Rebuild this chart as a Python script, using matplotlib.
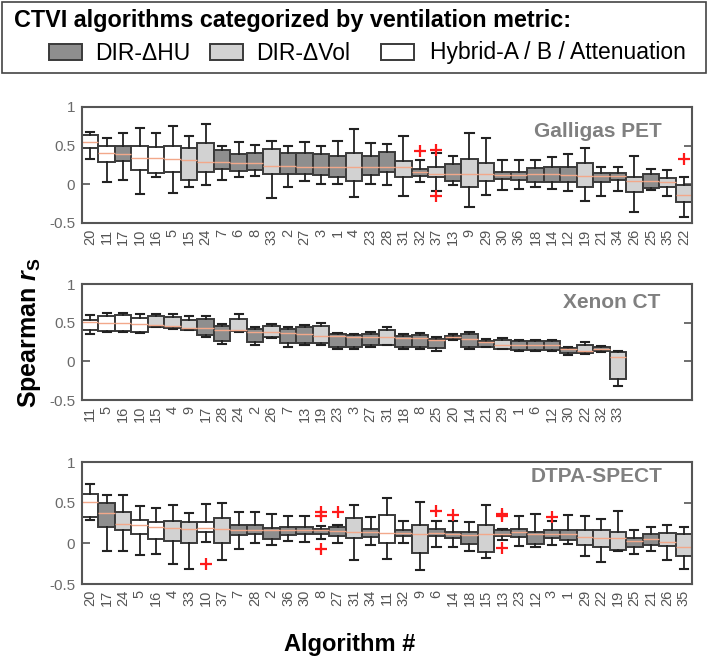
import matplotlib
matplotlib.use('Agg')
import matplotlib.pyplot as plt
from matplotlib.patches import Rectangle

plt.rcParams['font.family'] = ['Liberation Sans', 'DejaVu Sans']
plt.rcParams['mathtext.fontset'] = 'custom'
plt.rcParams['mathtext.rm'] = 'Liberation Sans:bold'
plt.rcParams['mathtext.it'] = 'Liberation Sans:italic:bold'
plt.rcParams['mathtext.bf'] = 'Liberation Sans:bold'

# ---------------- categories ----------------
hu_algos = [17, 7, 6, 8, 2, 27, 3, 1, 23, 28, 32, 13, 30, 36, 18, 14, 12, 21, 34, 25]
vol_algos = [15, 24, 33, 4, 31, 37, 9, 29, 19, 26, 35, 22]
hybrid_algos = [20, 11, 10, 16, 5]
legend_labels = ['DIR-ΔHU', 'DIR-ΔVol', 'Hybrid-A / B / Attenuation']

# ---------------- Galligas PET ----------------
pet_labels = [20, 11, 17, 10, 16, 5, 15, 24, 7, 6, 8, 33, 2, 27, 3, 1, 4, 23, 28,
              31, 32, 37, 13, 9, 29, 30, 36, 18, 14, 12, 19, 21, 34, 26, 25, 35, 22]
pet_lo = [0.33, 0.03, 0.05, -0.13, 0.09, -0.11, -0.04, -0.01, 0.05, 0.09, 0.11, -0.18, -0.04, 0.04, 0.00, 0.00, -0.17, 0.00, -0.01,
          -0.15, 0.03, -0.09, -0.01, -0.29, -0.14, -0.07, -0.06, -0.03, -0.06, -0.08, -0.22, -0.15, -0.09, -0.36, -0.07, -0.15, -0.42]
pet_q1 = [0.47, 0.29, 0.30, 0.19, 0.15, 0.16, 0.05, 0.16, 0.20, 0.17, 0.18, 0.13, 0.14, 0.13, 0.12, 0.10, 0.04, 0.12, 0.16,
          0.09, 0.11, 0.09, 0.04, -0.04, 0.04, 0.07, 0.06, 0.03, 0.03, 0.03, -0.03, 0.03, 0.06, -0.10, -0.05, -0.04, -0.23]
pet_med = [0.545, 0.40, 0.39, 0.34, 0.34, 0.33, 0.32, 0.29, 0.29, 0.27, 0.27, 0.24, 0.24, 0.23, 0.23, 0.22, 0.22, 0.22, 0.22,
           0.22, 0.16, 0.14, 0.14, 0.14, 0.14, 0.12, 0.12, 0.13, 0.13, 0.12, 0.11, 0.11, 0.11, 0.04, 0.04, 0.03, -0.14]
pet_q3 = [0.64, 0.50, 0.49, 0.50, 0.48, 0.50, 0.47, 0.53, 0.45, 0.39, 0.41, 0.46, 0.41, 0.40, 0.39, 0.36, 0.40, 0.36, 0.42,
          0.30, 0.20, 0.22, 0.26, 0.33, 0.27, 0.16, 0.16, 0.21, 0.23, 0.23, 0.28, 0.15, 0.15, 0.09, 0.13, 0.08, -0.01]
pet_hi = [0.68, 0.60, 0.66, 0.73, 0.67, 0.75, 0.62, 0.78, 0.50, 0.55, 0.51, 0.56, 0.50, 0.55, 0.50, 0.56, 0.71, 0.54, 0.52,
          0.62, 0.32, 0.40, 0.36, 0.66, 0.60, 0.32, 0.31, 0.32, 0.35, 0.39, 0.47, 0.22, 0.23, 0.37, 0.20, 0.19, 0.09]
pet_fliers = {32: [0.43], 37: [0.44, -0.15], 22: [0.33]}

# ---------------- Xenon CT ----------------
xe_labels = [11, 5, 16, 10, 15, 4, 9, 17, 28, 24, 2, 26, 7, 13, 19, 23, 3, 27, 31,
             18, 8, 25, 20, 14, 21, 29, 1, 6, 12, 30, 22, 32, 33]
xe_lo = [0.35, 0.38, 0.38, 0.37, 0.44, 0.42, 0.41, 0.31, 0.23, 0.38, 0.21, 0.30, 0.18, 0.21, 0.21, 0.16, 0.16, 0.18, 0.21,
         0.16, 0.16, 0.14, 0.28, 0.16, 0.18, 0.16, 0.14, 0.14, 0.14, 0.08, 0.10, 0.12, -0.32]
xe_q1 = [0.41, 0.39, 0.39, 0.38, 0.44, 0.43, 0.41, 0.34, 0.26, 0.39, 0.25, 0.31, 0.24, 0.24, 0.24, 0.19, 0.19, 0.21, 0.21,
         0.19, 0.19, 0.17, 0.29, 0.19, 0.19, 0.16, 0.15, 0.15, 0.15, 0.11, 0.11, 0.13, -0.23]
xe_med = [0.51, 0.49, 0.49, 0.48, 0.47, 0.46, 0.43, 0.43, 0.41, 0.40, 0.38, 0.38, 0.36, 0.35, 0.33, 0.33, 0.31, 0.32, 0.31,
          0.30, 0.30, 0.28, 0.31, 0.29, 0.25, 0.21, 0.21, 0.21, 0.21, 0.16, 0.14, 0.16, 0.06]
xe_q3 = [0.54, 0.59, 0.60, 0.56, 0.58, 0.57, 0.54, 0.55, 0.46, 0.55, 0.42, 0.46, 0.42, 0.44, 0.46, 0.35, 0.34, 0.35, 0.41,
         0.33, 0.34, 0.29, 0.33, 0.35, 0.26, 0.27, 0.26, 0.26, 0.26, 0.17, 0.21, 0.18, 0.12]
xe_hi = [0.60, 0.62, 0.63, 0.61, 0.61, 0.61, 0.58, 0.59, 0.48, 0.61, 0.44, 0.48, 0.44, 0.47, 0.50, 0.36, 0.35, 0.38, 0.45,
         0.35, 0.36, 0.31, 0.35, 0.38, 0.29, 0.30, 0.28, 0.28, 0.28, 0.19, 0.25, 0.20, 0.13]
xe_fliers = {}

# ---------------- DTPA-SPECT ----------------
sp_labels = [20, 17, 24, 5, 16, 4, 33, 10, 37, 7, 28, 2, 36, 30, 8, 27, 31, 34, 11,
             32, 9, 6, 14, 18, 15, 13, 23, 12, 3, 1, 29, 22, 19, 25, 21, 26, 35]
sp_lo = [0.29, -0.09, -0.09, -0.14, -0.13, -0.25, -0.32, 0.02, -0.21, -0.07, 0.00, -0.02, 0.03, 0.02, 0.05, 0.00, -0.21, -0.02, -0.19,
         0.00, -0.33, -0.04, -0.04, -0.09, -0.18, 0.04, -0.03, -0.04, -0.02, -0.01, -0.16, -0.23, -0.10, -0.13, -0.09, -0.21, -0.31]
sp_q1 = [0.32, 0.20, 0.17, 0.12, 0.05, 0.03, 0.00, 0.14, 0.00, 0.10, 0.12, 0.05, 0.10, 0.11, 0.12, 0.09, 0.06, 0.08, 0.00,
         0.09, -0.12, 0.09, 0.06, -0.01, -0.11, 0.09, 0.08, -0.01, 0.07, 0.04, -0.02, -0.04, -0.08, -0.04, -0.02, -0.03, -0.15]
sp_med = [0.51, 0.37, 0.24, 0.22, 0.20, 0.19, 0.18, 0.19, 0.18, 0.17, 0.17, 0.17, 0.16, 0.16, 0.16, 0.15, 0.14, 0.14, 0.13,
          0.13, 0.11, 0.13, 0.11, 0.10, 0.11, 0.12, 0.14, 0.11, 0.11, 0.11, 0.08, 0.07, 0.06, 0.03, 0.05, 0.02, -0.05]
sp_q3 = [0.61, 0.50, 0.38, 0.29, 0.26, 0.28, 0.26, 0.26, 0.31, 0.23, 0.22, 0.19, 0.20, 0.20, 0.18, 0.20, 0.31, 0.18, 0.35,
         0.16, 0.22, 0.18, 0.14, 0.14, 0.22, 0.16, 0.18, 0.14, 0.16, 0.17, 0.16, 0.16, 0.14, 0.07, 0.11, 0.13, 0.12]
sp_hi = [0.73, 0.60, 0.60, 0.46, 0.43, 0.47, 0.37, 0.48, 0.50, 0.39, 0.38, 0.36, 0.33, 0.33, 0.21, 0.23, 0.47, 0.32, 0.56,
         0.27, 0.51, 0.28, 0.27, 0.26, 0.47, 0.18, 0.34, 0.36, 0.28, 0.35, 0.34, 0.30, 0.40, 0.17, 0.20, 0.23, 0.20]
sp_fliers = {10: [-0.25], 8: [0.39, 0.33, -0.07], 27: [0.39], 6: [0.40], 14: [0.35],
             13: [0.36, 0.34, -0.06], 3: [0.32]}

panel_titles = ['Galligas PET', 'Xenon CT', 'DTPA-SPECT']
y_ticks = [-0.5, 0, 0.5, 1]
y_ticklabels = ['-0.5', '0', '0.5', '1']

# ---------------- styling ----------------
C_HU = '#8e8e8e'
C_VOL = '#d2d2d2'
C_HYB = '#ffffff'
EDGE = '#3a3a3a'
MED = '#f2a88a'


def color_for(a):
    if a in hu_algos:
        return C_HU
    if a in vol_algos:
        return C_VOL
    return C_HYB


W, H = 709, 657
fig = plt.figure(figsize=(W / 100, H / 100), dpi=100)


def px_axes(left, top, right, bottom):
    return fig.add_axes([left / W, 1 - bottom / H, (right - left) / W, (bottom - top) / H])


def draw_panel(ax, labels, lo, q1, med, q3, hi, fliers, title, tx, ty):
    stats = []
    for i, lab in enumerate(labels):
        stats.append(dict(whislo=lo[i], q1=q1[i], med=med[i], q3=q3[i],
                          whishi=hi[i], fliers=fliers.get(lab, [])))
    pos = list(range(1, len(labels) + 1))
    bp = ax.bxp(stats, positions=pos, widths=1.0, capwidths=0.5,
                patch_artist=True, showfliers=True,
                boxprops=dict(edgecolor=EDGE, linewidth=1.4),
                medianprops=dict(color=MED, linewidth=1.0),
                whiskerprops=dict(color='#222222', linewidth=1.3),
                capprops=dict(color='#222222', linewidth=1.5),
                flierprops=dict(marker='+', markeredgecolor='#ff1a1a', markersize=9,
                                markeredgewidth=1.6, linestyle='none'))
    for patch, lab in zip(bp['boxes'], labels):
        patch.set_facecolor(color_for(lab))
    ax.set_xlim(0.5, 37.5)
    ax.set_ylim(-0.5, 1)
    ax.set_yticks(y_ticks)
    ax.set_yticklabels(y_ticklabels)
    ax.set_xticks(pos)
    ax.set_xticklabels([str(l) for l in labels])
    ax.tick_params(axis='y', direction='in', length=6, width=1.2, color='#555555',
                   labelcolor='#6a6a6a', labelsize=11, left=True, right=True, pad=5)
    ax.tick_params(axis='x', length=0, labelrotation=90, labelsize=10.5,
                   labelcolor='#555555', pad=4)
    for s in ax.spines.values():
        s.set_color('#555555')
        s.set_linewidth(1.5)
    ax.text(tx, ty, title, transform=ax.transAxes, ha='right', va='top',
            fontsize=15, fontweight='bold', color='#808080')


ax1 = px_axes(82, 107, 692, 223)
draw_panel(ax1, pet_labels, pet_lo, pet_q1, pet_med, pet_q3, pet_hi, pet_fliers,
           panel_titles[0], 0.95, 0.87)
ax2 = px_axes(82, 284, 692, 400)
draw_panel(ax2, xe_labels, xe_lo, xe_q1, xe_med, xe_q3, xe_hi, xe_fliers,
           panel_titles[1], 0.948, 0.92)
ax3 = px_axes(82, 462, 692, 584)
draw_panel(ax3, sp_labels, sp_lo, sp_q1, sp_med, sp_q3, sp_hi, sp_fliers,
           panel_titles[2], 0.952, 0.96)

# axis labels
fig.text(30 / W, 1 - 333 / H, r'Spearman $\mathit{r}_{\mathrm{S}}$', rotation=90,
         ha='center', va='center', fontsize=18, fontweight='bold')
fig.text(350 / W, 1 - 645 / H, 'Algorithm #', ha='center', va='center',
         fontsize=17, fontweight='bold')

# legend box
fig.patches.append(Rectangle((2 / W, 1 - 73 / H), 704 / W, 71 / H, transform=fig.transFigure,
                             facecolor='white', edgecolor='#444444', linewidth=1.2))
fig.text(14 / W, 1 - 21 / H, 'CTVI algorithms categorized by ventilation metric:',
         ha='left', va='center', fontsize=16.8, fontweight='bold')
patch_x = [49, 210, 381]
text_x = [95, 256, 430]
for col, px, tx, lab in zip([C_HU, C_VOL, C_HYB], patch_x, text_x, legend_labels):
    fig.patches.append(Rectangle((px / W, 1 - 60 / H), 33 / W, 16 / H, transform=fig.transFigure,
                                 facecolor=col, edgecolor=EDGE, linewidth=1.4))
    fig.text(tx / W, 1 - 53 / H, lab, ha='left', va='center', fontsize=16.5)

fig.savefig('out.png', dpi=100)
